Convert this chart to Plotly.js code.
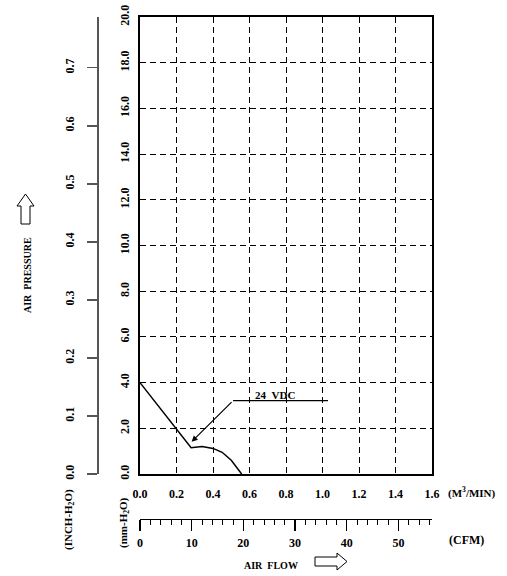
<!DOCTYPE html>
<html>
<head>
<meta charset="utf-8">
<script src="https://cdn.plot.ly/plotly-3.0.1.min.js"></script>
<style>html,body{margin:0;padding:0;background:#fff;}#chart{width:507px;height:576px;}</style>
</head>
<body>
<div id="chart"></div>
<script>
// Data (air flow in m^3/min, static pressure in mm-H2O)
const flowM3 = [0.0, 0.28, 0.34, 0.40, 0.45, 0.50, 0.557];
const pressureMM = [4.0, 1.15, 1.20, 1.12, 0.95, 0.60, 0.0];
const seriesName = '24 VDC';

// Axis spans and unit conversions
const flowMax = 1.6;            // m^3/min
const pressMax = 20.0;          // mm-H2O
const cfmPerM3 = 35.3147;
const mmPerInch = 25.4;

const W = 507, H = 576;
const px = x => x / W;
const py = y => 1 - y / H;
const FONT = 'Liberation Serif';
const tf = (s) => ({family: FONT, size: s, color: '#000', weight: 'bold'});

const trace = {
  x: flowM3, y: pressureMM, type: 'scatter', mode: 'lines',
  name: seriesName, xaxis: 'x', yaxis: 'y',
  line: {color: '#000', width: 1.5}, showlegend: false, hoverinfo: 'skip'
};
// same curve expressed in inch-H2O (secondary pressure scale) - transparent, coincides with main curve
const traceInch = {
  x: flowM3, y: pressureMM.map(v => v / mmPerInch), type: 'scatter', mode: 'lines',
  xaxis: 'x', yaxis: 'y2', line: {color: 'rgba(0,0,0,0)', width: 0},
  showlegend: false, hoverinfo: 'skip'
};
// same curve expressed in CFM (secondary flow scale) - transparent
const traceCfm = {
  x: flowM3.map(v => v * cfmPerM3), y: pressureMM, type: 'scatter', mode: 'lines',
  xaxis: 'x2', yaxis: 'y', line: {color: 'rgba(0,0,0,0)', width: 0},
  showlegend: false, hoverinfo: 'skip'
};

const gridCommon = {
  showgrid: true, gridcolor: '#000', gridwidth: 1, griddash: '6px,4px',
  zeroline: false, showline: true, mirror: true, linecolor: '#000', linewidth: 2,
  fixedrange: true
};

const note = (x, y, text, size, extra) => Object.assign({
  xref: 'paper', yref: 'paper', x: px(x), y: py(y), text: text,
  xanchor: 'center', yanchor: 'middle', showarrow: false, font: tf(size)
}, extra || {});

const layout = {
  width: W, height: H,
  margin: {l: 0, r: 0, t: 0, b: 0},
  paper_bgcolor: '#fff', plot_bgcolor: 'rgba(0,0,0,0)',
  font: tf(11),
  showlegend: false,
  xaxis: Object.assign({}, gridCommon, {
    domain: [px(140), px(432)], range: [0, flowMax], dtick: 0.2, tickformat: '.1f',
    ticks: '', ticklabelstandoff: 8, anchor: 'y', tickfont: tf(12)
  }),
  yaxis: Object.assign({}, gridCommon, {
    domain: [py(474), py(17)], range: [0, pressMax], dtick: 2, tickformat: '.1f',
    ticks: '', tickangle: -90, ticklabelstandoff: 4, anchor: 'x', tickfont: tf(12)
  }),
  yaxis2: {
    overlaying: 'y', anchor: 'free', position: px(97), side: 'left',
    range: [0, pressMax / mmPerInch], dtick: 0.1, tickformat: '.1f',
    showgrid: false, zeroline: false, showline: true, linecolor: '#555', linewidth: 1.5,
    ticks: 'outside', ticklen: 10, tickwidth: 1.5, tickcolor: '#555',
    tickangle: -90, ticklabelstandoff: 8, fixedrange: true, tickfont: tf(12)
  },
  xaxis2: {
    overlaying: 'x', anchor: 'free', position: py(519), side: 'bottom',
    range: [0, flowMax * cfmPerM3], dtick: 10, tickformat: 'd',
    showgrid: false, zeroline: false, showline: true, linecolor: '#000', linewidth: 1.2,
    ticks: 'outside', ticklen: 11, tickwidth: 1.2, tickcolor: '#000',
    minor: {dtick: 2, ticks: 'outside', ticklen: 5, tickwidth: 1, tickcolor: '#000', showgrid: false},
    ticklabelstandoff: 1, fixedrange: true, tickfont: tf(12)
  },
  shapes: [
    // leader line for the curve label
    {type: 'line', xref: 'x', yref: 'y', x0: 0.51, y0: 3.21, x1: 1.03, y1: 3.21,
     line: {color: '#000', width: 1.2}},
    // hollow up arrow (air pressure)
    {type: 'path', xref: 'paper', yref: 'paper',
     path: `M ${px(21)} ${py(224)} L ${px(21)} ${py(206)} L ${px(17)} ${py(206)} L ${px(25.5)} ${py(194)} L ${px(34)} ${py(206)} L ${px(30)} ${py(206)} L ${px(30)} ${py(224)} Z`,
     line: {color: '#000', width: 1}, fillcolor: 'rgba(0,0,0,0)'},
    // hollow right arrow (air flow)
    {type: 'path', xref: 'paper', yref: 'paper',
     path: `M ${px(315)} ${py(557)} L ${px(337)} ${py(557)} L ${px(337)} ${py(553)} L ${px(347)} ${py(561.5)} L ${px(337)} ${py(570)} L ${px(337)} ${py(566)} L ${px(315)} ${py(566)} Z`,
     line: {color: '#000', width: 1}, fillcolor: 'rgba(0,0,0,0)'}
  ],
  annotations: [
    {xref: 'x', yref: 'y', x: 0.283, y: 1.41, ax: 0.51, ay: 3.21, axref: 'x', ayref: 'y',
     text: '', showarrow: true, arrowhead: 2, arrowsize: 1, arrowwidth: 1.2, arrowcolor: '#000'},
    {xref: 'x', yref: 'y', x: 0.74, y: 3.21, xanchor: 'center', yanchor: 'bottom', yshift: -2,
     text: '24&nbsp;&nbsp;VDC', showarrow: false, font: tf(11)},
    note(472, 492, '(M<sup>3</sup>/MIN)', 11),
    note(466, 540, '(CFM)', 12),
    note(271, 565, 'AIR&nbsp;&nbsp;FLOW', 10),
    note(27, 275, 'AIR&nbsp;&nbsp;PRESSURE', 10, {textangle: -90}),
    note(69, 520, '(INCH-H<sub>2</sub>O)', 11, {textangle: -90}),
    note(124, 523, '(mm-H<sub>2</sub>O)', 11, {textangle: -90})
  ]
};

Plotly.newPlot('chart', [traceInch, traceCfm, trace], layout, {staticPlot: true, displayModeBar: false});
</script>
</body>
</html>
